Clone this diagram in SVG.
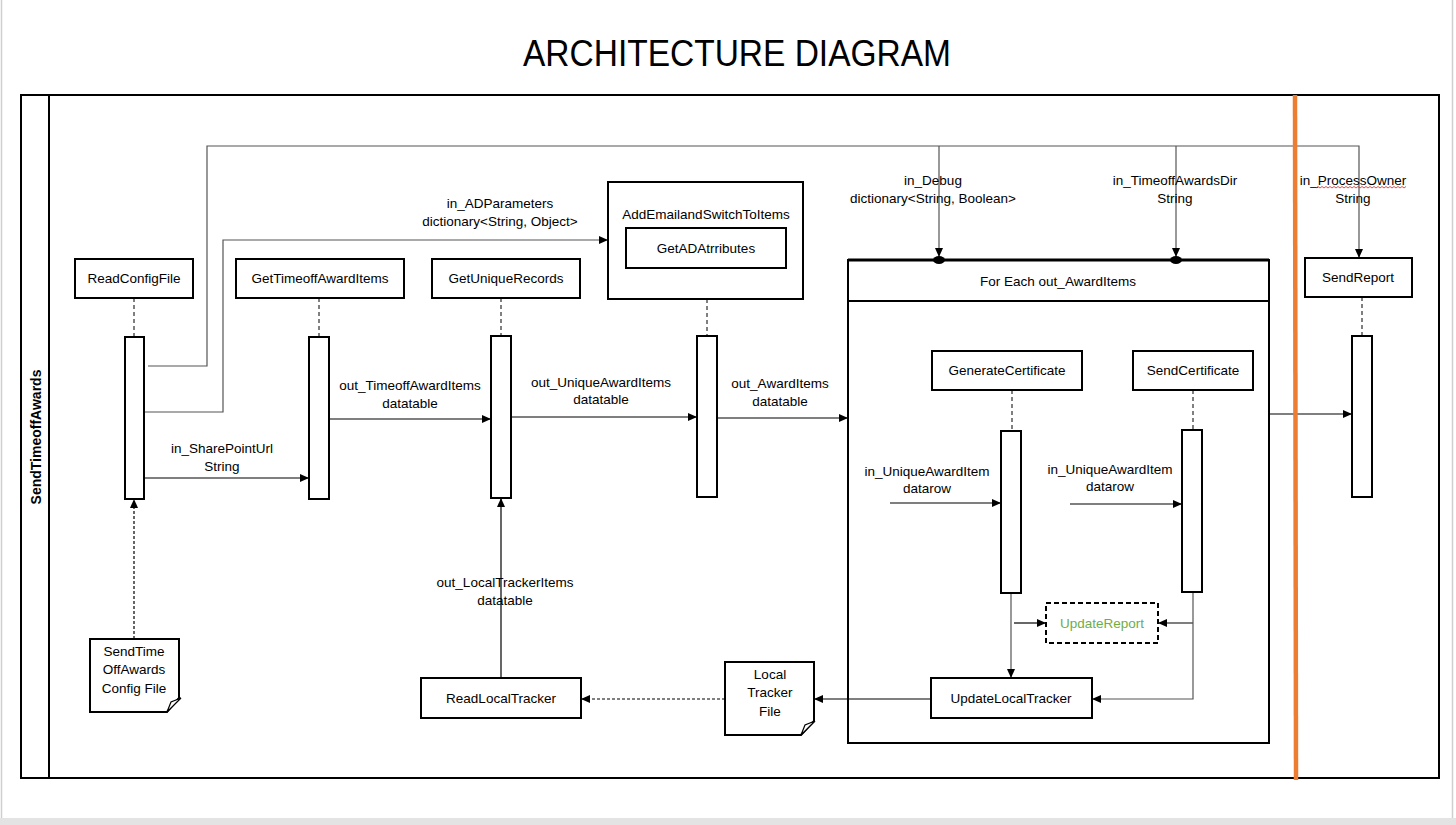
<svg xmlns="http://www.w3.org/2000/svg" width="1456" height="825" viewBox="0 0 1456 825">
<defs>
<style>
text{font-family:"Liberation Sans",Arial,sans-serif;font-size:13.5px;fill:#000;text-anchor:middle}
.box{fill:#fff;stroke:#000;stroke-width:2}
.bar{fill:#fff;stroke:#000;stroke-width:2}
.life{stroke:#000;stroke-width:1;stroke-dasharray:4,3;fill:none}
.conn{stroke:#000;stroke-width:1.2;fill:none}
.gray{stroke:#555;stroke-width:1.2;fill:none}
.dconn{stroke:#000;stroke-width:1.2;stroke-dasharray:3,2;fill:none}
</style>
<marker id="arr" markerWidth="10" markerHeight="10" refX="9" refY="5" orient="auto" markerUnits="userSpaceOnUse">
<path d="M0,1 L9,5 L0,9 Z" fill="#000"/>
</marker>
</defs>
<rect width="1456" height="825" fill="#fff"/>
<rect x="0" y="818" width="1456" height="7" fill="#e3e3e3"/>
<line x1="1.5" y1="0" x2="1.5" y2="818" stroke="#cfcfcf" stroke-width="1.5"/>
<line x1="1452.5" y1="0" x2="1452.5" y2="818" stroke="#cfcfcf" stroke-width="1.5"/>

<text x="737" y="66" style="font-size:36px" textLength="428" lengthAdjust="spacingAndGlyphs">ARCHITECTURE DIAGRAM</text>

<g id="lane">
<rect x="21" y="95" width="1418" height="683" fill="none" stroke="#000" stroke-width="2"/>
<line x1="49" y1="95" x2="49" y2="778" stroke="#000" stroke-width="2"/>
<text transform="translate(41,437) rotate(-90)" style="font-weight:bold;font-size:14px">SendTimeoffAwards</text>
</g>

<g id="connectors">
<path class="gray" d="M148,366 H207 V146 H1359 V258" marker-end="url(#arr)"/>
<path class="gray" d="M939,146 V257" marker-end="url(#arr)"/>
<path class="gray" d="M1176,146 V257" marker-end="url(#arr)"/>
<path class="gray" d="M145,412 H223 V240 H608" marker-end="url(#arr)"/>
<path class="life" d="M134,298 V337 M319,298 V337 M501,298 V336 M707,299 V336 M1012,390 V431 M1193,390 V430 M1362,297 V336"/>
<path class="conn" d="M145,478 H309" marker-end="url(#arr)"/>
<path class="conn" d="M329,419 H491" marker-end="url(#arr)"/>
<path class="conn" d="M511,417 H697" marker-end="url(#arr)"/>
<path class="conn" d="M717,418 H848" marker-end="url(#arr)"/>
<path class="conn" d="M1269,414 H1352" marker-end="url(#arr)"/>
<path class="dconn" d="M134,639 V499" marker-end="url(#arr)"/>
<path class="conn" d="M501,678 V498" marker-end="url(#arr)"/>
<path class="conn" d="M890,503 H1001" marker-end="url(#arr)"/>
<path class="conn" d="M1070,504 H1182" marker-end="url(#arr)"/>
<path class="gray" d="M1011,593 V678" marker-end="url(#arr)"/>
<path class="conn" d="M1014,623 H1046" marker-end="url(#arr)"/>
<path class="conn" d="M1193,623 H1158" marker-end="url(#arr)"/>
<path class="gray" d="M1193,592 V699 H1092" marker-end="url(#arr)"/>
<path class="conn" d="M931,699 H814" marker-end="url(#arr)"/>
<path class="dconn" d="M725,699 H581" marker-end="url(#arr)"/>
</g>

<g id="labels">
<text x="500" y="208">in_ADParameters</text>
<text x="500" y="226">dictionary&lt;String, Object&gt;</text>
<text x="933" y="185">in_Debug</text>
<text x="933" y="203">dictionary&lt;String, Boolean&gt;</text>
<text x="1175" y="185">in_TimeoffAwardsDir</text>
<text x="1175" y="203">String</text>
<text x="1353" y="185">in_ProcessOwner</text>
<text x="1353" y="203">String</text>
<path d="M1316,188 l2,-1.5 l2,1.5 l2,-1.5 l2,1.5 l2,-1.5 l2,1.5 l2,-1.5 l2,1.5 l2,-1.5 l2,1.5 l2,-1.5 l2,1.5 l2,-1.5 l2,1.5 l2,-1.5 l2,1.5 l2,-1.5 l2,1.5 l2,-1.5 l2,1.5 l2,-1.5 l2,1.5 l2,-1.5 l2,1.5 l2,-1.5 l2,1.5 l2,-1.5 l2,1.5 l2,-1.5 l2,1.5 l2,-1.5 l2,1.5 l2,-1.5 l2,1.5 l2,-1.5 l2,1.5 l2,-1.5 l2,1.5 l2,-1.5 l2,1.5 l2,-1.5 l2,1.5 l2,-1.5 l2,1.5 l2,-1.5" fill="none" stroke="#e02020" stroke-width="0.8"/>
<text x="222" y="453">in_SharePointUrl</text>
<text x="222" y="471">String</text>
<text x="410" y="390">out_TimeoffAwardItems</text>
<text x="410" y="408">datatable</text>
<text x="601" y="387">out_UniqueAwardItems</text>
<text x="601" y="404">datatable</text>
<text x="780" y="388">out_AwardItems</text>
<text x="780" y="406">datatable</text>
<text x="505" y="587">out_LocalTrackerItems</text>
<text x="505" y="605">datatable</text>
<text x="927" y="476">in_UniqueAwardItem</text>
<text x="927" y="493">datarow</text>
<text x="1110" y="474">in_UniqueAwardItem</text>
<text x="1110" y="491">datarow</text>
</g>

<g id="ReadConfigFile">
<rect class="box" x="75" y="259" width="118" height="39"/>
<text x="134" y="283">ReadConfigFile</text>
<rect class="bar" x="125" y="337" width="19" height="162"/>
</g>
<g id="GetTimeoffAwardItems">
<rect class="box" x="236" y="259" width="168" height="39"/>
<text x="320" y="283">GetTimeoffAwardItems</text>
<rect class="bar" x="309" y="337" width="20" height="162"/>
</g>
<g id="GetUniqueRecords">
<rect class="box" x="432" y="259" width="148" height="39"/>
<text x="506" y="283">GetUniqueRecords</text>
<rect class="bar" x="491" y="336" width="20" height="162"/>
</g>
<g id="AddEmailandSwitchToItems">
<rect class="box" x="608" y="182" width="195" height="117"/>
<text x="706" y="219">AddEmailandSwitchToItems</text>
<rect class="box" x="626" y="228" width="160" height="40"/>
<text x="706" y="253">GetADAtrributes</text>
<rect class="bar" x="697" y="336" width="20" height="161"/>
</g>
<g id="ForEach">
<rect x="848" y="260" width="421" height="483" fill="none" stroke="#000" stroke-width="2"/>
<line x1="848" y1="260" x2="1269" y2="260" stroke="#000" stroke-width="3"/>
<line x1="848" y1="301" x2="1269" y2="301" stroke="#000" stroke-width="2"/>
<text x="1058" y="286">For Each out_AwardItems</text>
<ellipse cx="939" cy="260" rx="6" ry="4" fill="#000"/>
<ellipse cx="1176" cy="260" rx="6" ry="4" fill="#000"/>
</g>
<g id="GenerateCertificate">
<rect class="box" x="932" y="351" width="150" height="39"/>
<text x="1007" y="375">GenerateCertificate</text>
<rect class="bar" x="1001" y="431" width="20" height="162"/>
</g>
<g id="SendCertificate">
<rect class="box" x="1133" y="351" width="120" height="39"/>
<text x="1193" y="375">SendCertificate</text>
<rect class="bar" x="1182" y="430" width="20" height="162"/>
</g>
<g id="UpdateReport">
<rect x="1046" y="603" width="112" height="40" fill="#fff" stroke="#000" stroke-width="2" stroke-dasharray="5,3"/>
<text x="1102" y="628" style="fill:#70ad47">UpdateReport</text>
</g>
<g id="UpdateLocalTracker">
<rect class="box" x="931" y="678" width="161" height="40"/>
<text x="1011" y="703">UpdateLocalTracker</text>
</g>
<g id="LocalTrackerFile">
<path d="M725,662 H814 V721 L801,735 H725 Z" fill="#fff" stroke="#000" stroke-width="2"/>
<path d="M801,735 L805,725 L815,721 Z" fill="#fff" stroke="#000" stroke-width="1.2"/>
<text x="770" y="679">Local</text>
<text x="770" y="697">Tracker</text>
<text x="770" y="716">File</text>
</g>
<g id="ReadLocalTracker">
<rect class="box" x="421" y="678" width="160" height="40"/>
<text x="501" y="703">ReadLocalTracker</text>
</g>
<g id="ConfigFile">
<path d="M90,639 H179 V698 L167,712 H90 Z" fill="#fff" stroke="#000" stroke-width="2"/>
<path d="M167,712 L171,702 L181,698 Z" fill="#fff" stroke="#000" stroke-width="1.2"/>
<text x="134" y="656">SendTime</text>
<text x="134" y="674">OffAwards</text>
<text x="134" y="693">Config File</text>
</g>
<g id="SendReport">
<rect class="box" x="1305" y="258" width="107" height="39"/>
<text x="1358" y="282">SendReport</text>
<rect class="bar" x="1352" y="336" width="20" height="161"/>
</g>
<line id="orange" x1="1295" y1="95" x2="1296" y2="780" stroke="#ed7d31" stroke-width="4.5"/>
</svg>
